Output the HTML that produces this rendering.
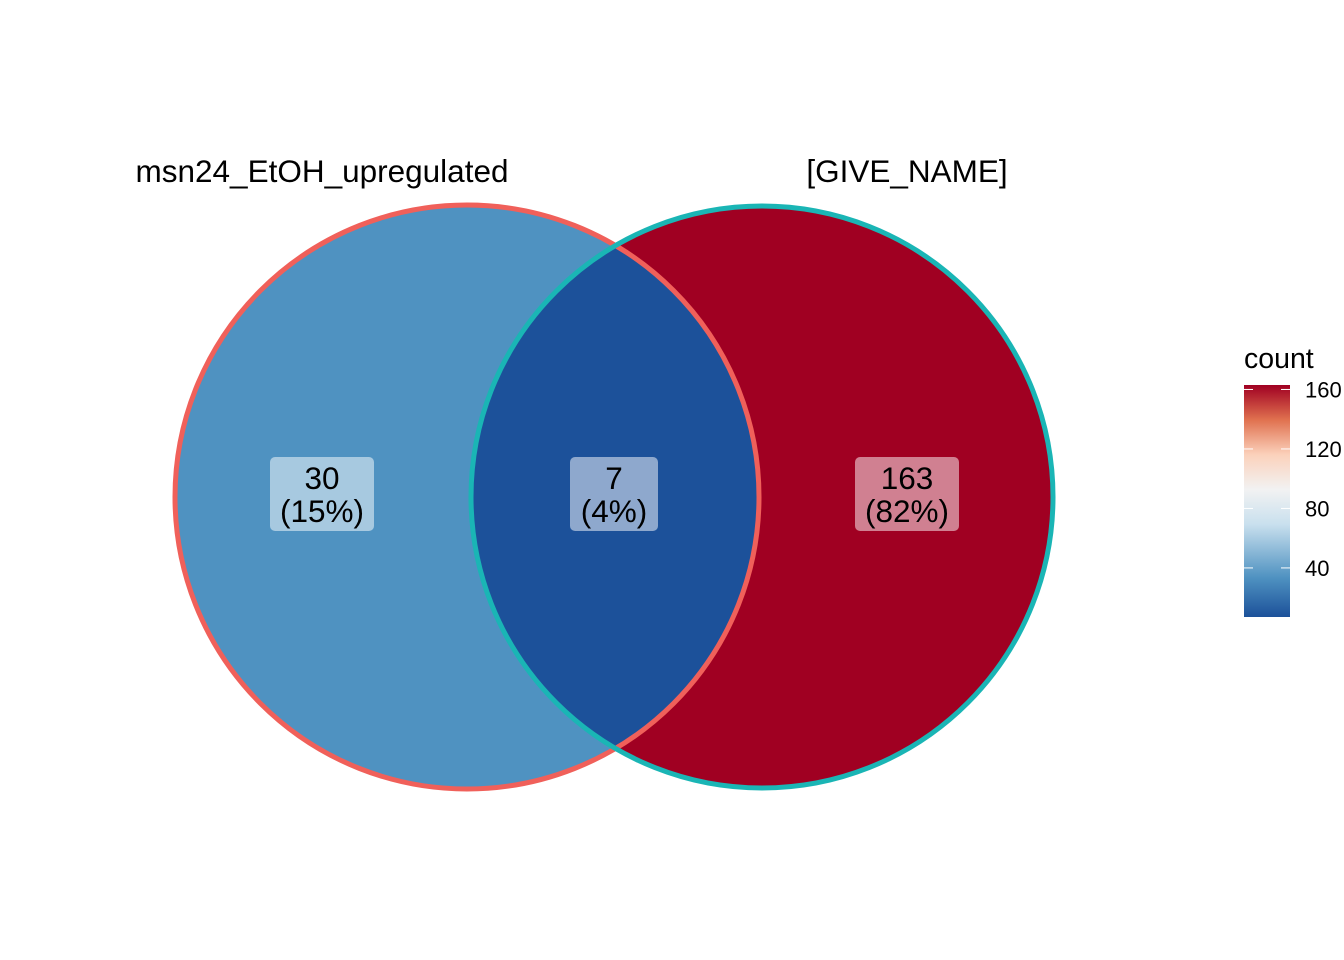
<!DOCTYPE html>
<html><head><meta charset="utf-8"><style>
body{margin:0;background:#fff}
svg{display:block;font-family:"Liberation Sans",Arial,sans-serif}
</style></head><body>
<svg id="chart" width="1344" height="960">
<defs>
<linearGradient id="grad" x1="0" y1="1" x2="0" y2="0">
<stop offset="0" stop-color="#1c519a"/>
<stop offset="0.17" stop-color="#4f92c1"/>
<stop offset="0.4" stop-color="#c9e0ee"/>
<stop offset="0.55" stop-color="#f2f2f2"/>
<stop offset="0.7" stop-color="#fbd1bb"/>
<stop offset="0.85" stop-color="#e0714f"/>
<stop offset="1" stop-color="#a00022"/>
</linearGradient>
<clipPath id="clipL"><circle cx="467" cy="497" r="292"/></clipPath>
</defs>
<g id="venn"></g>
<g id="legend"></g>
</svg>
<script>
const setNames = ["msn24_EtOH_upregulated", "[GIVE_NAME]"];
const regionCounts = [30, 7, 163];
const regionPercents = ["15%", "4%", "82%"];
const legendTicks = [40, 80, 120, 160];
const NS = "http://www.w3.org/2000/svg";
function mk(tag, attrs, parent){const e=document.createElementNS(NS,tag);for(const k in attrs)e.setAttribute(k,attrs[k]);parent.appendChild(e);return e;}
const vmin=7, vmax=163;
const stops=[[0,[28,81,154]],[0.147,[79,146,193]],[0.4,[201,224,238]],[0.55,[242,242,242]],[0.7,[251,209,187]],[0.85,[224,113,79]],[1,[160,0,34]]];
function col(v){let t=(v-vmin)/(vmax-vmin);t=Math.max(0,Math.min(1,t));for(let i=1;i<stops.length;i++){if(t<=stops[i][0]+1e-9){const a=stops[i-1],b=stops[i];const f=(t-a[0])/(b[0]-a[0]);const c=a[1].map((x,j)=>Math.round(x+(b[1][j]-x)*f));return `rgb(${c})`;}}return "rgb(160,0,34)";}
const g=document.getElementById('venn');
const L={cx:467,cy:497,r:292}, R={cx:762,cy:497,r:291};
let e;
e=mk('circle',{cx:L.cx,cy:L.cy,r:L.r,fill:col(regionCounts[0])},g);


e=mk('circle',{cx:R.cx,cy:R.cy,r:R.r,fill:col(regionCounts[2])},g);


e=mk('circle',{cx:R.cx,cy:R.cy,r:R.r,fill:col(regionCounts[1]),'clip-path':'url(#clipL)'},g);


e=mk('circle',{cx:L.cx,cy:L.cy,r:L.r,fill:'none',stroke:'#f0605a','stroke-width':5},g);


e=mk('circle',{cx:R.cx,cy:R.cy,r:R.r,fill:'none',stroke:'#1ab5b5','stroke-width':5},g);


const titleX=[322,907];
setNames.forEach((n,i)=>{const t=mk('text',{x:titleX[i],y:182,'text-anchor':'middle','font-size':31.5,fill:'#000'},g);t.textContent=n;

});
const labelX=[322,614,907], boxW=[104,88,104];
regionCounts.forEach((c,i)=>{
 const r=mk('rect',{x:labelX[i]-boxW[i]/2,y:457,width:boxW[i],height:74,rx:5,fill:'#fff','fill-opacity':0.5},g);
 
 
 const t1=mk('text',{x:labelX[i],y:489,'text-anchor':'middle','font-size':31.5},g);t1.textContent=c;
 
 
 const t2=mk('text',{x:labelX[i],y:522,'text-anchor':'middle','font-size':31.5},g);t2.textContent='('+regionPercents[i]+')';
 
 
});
const lg=document.getElementById('legend');
const barTop=385, barBot=617, bx=1244, bw=46;
const ly=v=>barBot-(v-vmin)/(vmax-vmin)*(barBot-barTop);
e=mk('text',{x:1244,y:368,'font-size':28.5},lg);e.textContent='count';


e=mk('rect',{x:bx,y:barTop,width:bw,height:barBot-barTop,fill:'url(#grad)'},lg);


legendTicks.forEach(v=>{const y=ly(v);
 mk('line',{x1:bx,x2:bx+9,y1:y,y2:y,stroke:'#fff','stroke-width':1},lg);
 mk('line',{x1:bx+bw-9,x2:bx+bw,y1:y,y2:y,stroke:'#fff','stroke-width':1},lg);
 const t=mk('text',{x:1305,y:y+8,'font-size':22},lg);t.textContent=v;
 
 
});
</script>
</body></html>
